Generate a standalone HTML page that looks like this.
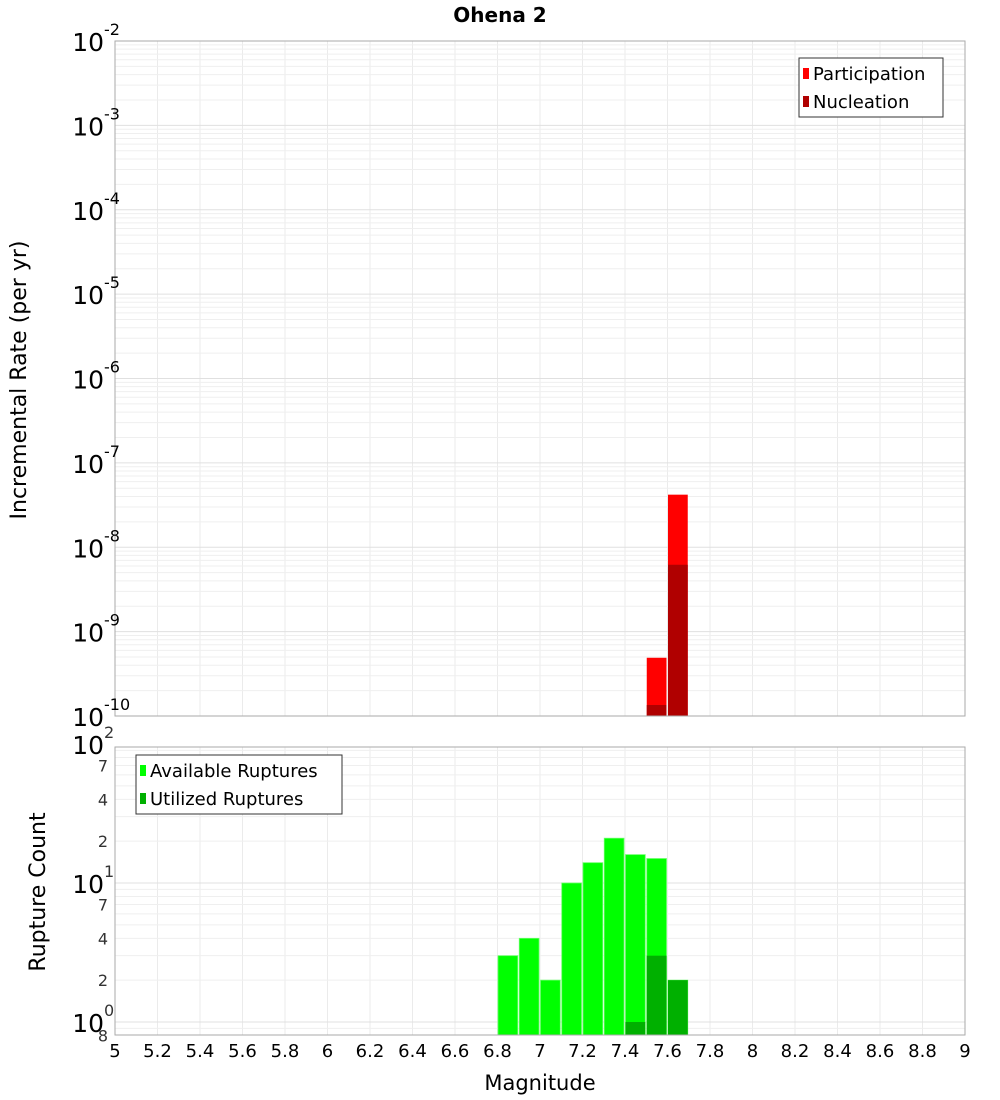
<!DOCTYPE html>
<html><head><meta charset="utf-8"><style>
body{margin:0;background:#fff;font-family:"Liberation Sans","DejaVu Sans",sans-serif}
svg{display:block}
</style></head><body>
<svg id="c" width="1000" height="1100" xmlns="http://www.w3.org/2000/svg" font-family="DejaVu Sans, Liberation Sans, sans-serif">
<text x="500" y="22" text-anchor="middle" font-size="20" font-weight="bold">Ohena 2</text>
<text transform="translate(26,380) rotate(-90)" text-anchor="middle" font-size="22">Incremental Rate (per yr)</text>
<text transform="translate(45,892) rotate(-90)" text-anchor="middle" font-size="22">Rupture Count</text>
<text x="540" y="1090" text-anchor="middle" font-size="21">Magnitude</text>
</svg>
<script>
const binStarts = [6.8,6.9,7.0,7.1,7.2,7.3,7.4,7.5,7.6];
const available = [3,4,2,10,14,21,16,15,2];
const utilized = [0,0,0,0,0,0,1,3,2];
const rateBins = [7.5,7.6];
const participation = [4.9e-10,4.2e-8];
const nucleation = [1.35e-10,6.2e-9];
const xTicks = [5,5.2,5.4,5.6,5.8,6,6.2,6.4,6.6,6.8,7,7.2,7.4,7.6,7.8,8,8.2,8.4,8.6,8.8,9];
const rateExps = [-2,-3,-4,-5,-6,-7,-8,-9,-10];

const svg=document.getElementById('c');
const NS='http://www.w3.org/2000/svg';
function mk(t,a,p){const e=document.createElementNS(NS,t);for(const k in a)e.setAttribute(k,a[k]);(p||svg).appendChild(e);return e;}
const L=115,R=965;
const xs=m=>L+(m-5)/4*(R-L);
// top plot
const T1=41,B1=716;
const y1=v=>T1+(-2-Math.log10(v))/8*(B1-T1);
// bottom plot
const T2=747,B2=1035,y10=883,pd=139;
const y2=v=>y10-(Math.log10(v)-1)*pd;

function grid(top,bot,ys,lo,hi){
  const g=mk('g',{});
  
  
  for(let m=5;m<=9.001;m+=0.2)mk('line',{x1:xs(m),x2:xs(m),y1:top,y2:bot,stroke:'#ebebeb'},g);
  for(let e=lo;e<=hi;e++)for(let k=1;k<10;k++){const v=k*Math.pow(10,e);const y=ys(v);if(y>=top&&y<=bot)mk('line',{x1:L,x2:R,y1:y,y2:y,stroke:k==1?'#e0e0e0':'#efefef'},g);}
}
grid(T1,B1,y1,-10,-3);
grid(T2,B2,y2,-1,2);

rateBins.forEach((m,i)=>{
  const r=mk('rect',{x:xs(m)+0.5,y:y1(participation[i]),width:xs(m+0.1)-xs(m)-1.5,height:B1-y1(participation[i]),fill:'#ff0000'});
  
  
  const n=mk('rect',{x:xs(m)+0.5,y:y1(nucleation[i]),width:xs(m+0.1)-xs(m)-1.5,height:B1-y1(nucleation[i]),fill:'#b00000'});
  
  
});
binStarts.forEach((m,i)=>{
  const r=mk('rect',{x:xs(m)+0.5,y:y2(available[i]),width:xs(m+0.1)-xs(m)-1.5,height:B2-y2(available[i]),fill:'#00ff00',stroke:'#66ff66','stroke-width':0.8});
  
  
  if(utilized[i]>0){
    const u=mk('rect',{x:xs(m)+0.5,y:y2(utilized[i]),width:xs(m+0.1)-xs(m)-1.5,height:B2-y2(utilized[i]),fill:'#00b000'});
    
    
  }
});
mk('rect',{x:L,y:T1,width:R-L,height:B1-T1,fill:'none',stroke:'#aaa'});
mk('rect',{x:L,y:T2,width:R-L,height:B2-T2,fill:'none',stroke:'#aaa'});

rateExps.forEach(e=>{
  const y=y1(Math.pow(10,e));
  const t=mk('text',{x:104,y:y+10,'text-anchor':'end','font-size':25});
  
  
  t.textContent='10';
  const s=mk('text',{x:104,y:y-6,'font-size':16});
  
  
  s.textContent=String(e);
});
const cTicks=[[100,'10','2'],[70,'7'],[40,'4'],[20,'2'],[10,'10','1'],[7,'7'],[4,'4'],[2,'2'],[1,'10','0'],[0.8,'8']];
cTicks.forEach(c=>{
  const y=y2(c[0]);
  const big=c.length==3;
  const t=mk('text',{x:big?104:(c[1]=='8'?108:108),y:y+(big?10:6),'text-anchor':'end','font-size':big?25:16,fill:big?'#000':'#333'});
  
  
  t.textContent=c[1];
  if(big){const s=mk('text',{x:104,y:y-6,'font-size':16,fill:'#333'});
    
    
    s.textContent=c[2];}
});
xTicks.forEach(m=>{
  const t=mk('text',{x:xs(m),y:1057,'text-anchor':'middle','font-size':18});
  
  
  t.textContent=String(m);
});
function legend(x,y,w,items,name){
  const g=mk('g',{});
  
  
  mk('rect',{x:x,y:y,width:w,height:items.length*28+3,fill:'#fff',stroke:'#333'},g);
  items.forEach((it,i)=>{
    mk('rect',{x:x+4,y:y+10+i*28,width:6,height:11,fill:it[1]},g);
    const t=mk('text',{x:x+14,y:y+22+i*28,'font-size':18},g);
    t.textContent=it[0];
  });
}
legend(799,58,144,[['Participation','#ff0000'],['Nucleation','#b00000']],'rate-legend');
legend(136,755,206,[['Available Ruptures','#00ff00'],['Utilized Ruptures','#00b000']],'count-legend');
</script>
</body></html>
